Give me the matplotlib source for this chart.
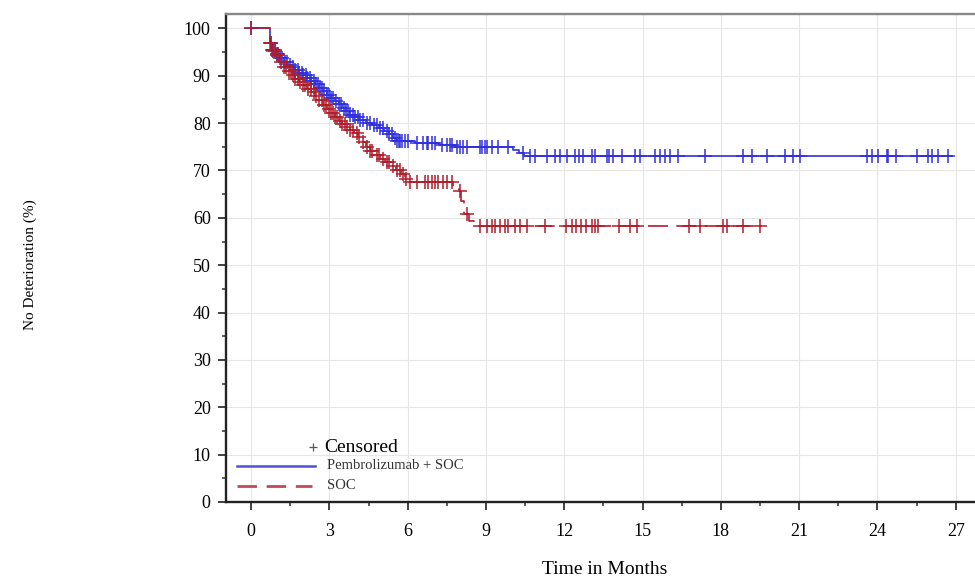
import numpy as np
import matplotlib
matplotlib.use("Agg")
import matplotlib.pyplot as plt
from matplotlib.ticker import MultipleLocator

plt.rcParams["font.family"] = ["Liberation Serif", "DejaVu Serif"]

# Kaplan-Meier estimates: event times (months) and survival (%) after each step
pembro_times = [0.0, 0.72, 0.8, 0.95, 1.1, 1.25, 1.4, 1.55, 1.7, 1.85, 2.0, 2.15, 2.3,
                2.45, 2.6, 2.75, 2.9, 3.05, 3.2, 3.35, 3.5, 3.65, 3.8, 3.95, 4.15,
                4.4, 4.65, 4.9, 5.1, 5.3, 5.45, 5.6, 6.3, 7.2, 7.8, 10.05, 10.25, 10.45]
pembro_surv = [100, 97, 95.5, 94.5, 93.8, 93, 92.3, 91.8, 91.2, 90.6, 90.1, 89.6, 89,
               88.3, 87.5, 86.8, 86, 85.3, 84.6, 84, 83.3, 82.5, 81.8, 81.2, 80.6,
               80.1, 79.5, 79, 78.3, 77.6, 76.9, 76.3, 75.8, 75.4, 74.9, 74.3, 73.7, 73.1]
pembro_end = 26.86
pembro_censor = [0.0, 0.75, 0.8, 0.85, 0.92, 1.0, 1.05, 1.1, 1.2, 1.3, 1.38, 1.5, 1.6,
                 1.7, 1.78, 1.85, 1.95, 2.0, 2.1, 2.15, 2.25, 2.3, 2.4, 2.5, 2.58,
                 2.65, 2.72, 2.8, 2.9, 3.0, 3.08, 3.15, 3.25, 3.35, 3.45, 3.55, 3.65,
                 3.72, 3.8, 3.9, 4.0, 4.1, 4.17, 4.3, 4.45, 4.56, 4.7, 4.82, 4.95,
                 5.06, 5.2, 5.3, 5.41, 5.5, 5.6, 5.65, 5.71, 5.8, 5.9, 6.02, 6.36,
                 6.59, 6.74, 6.78, 6.94, 7.05, 7.31, 7.51, 7.62, 7.7, 7.89, 8.0, 8.13,
                 8.27, 8.78, 8.85, 8.97, 9.04, 9.23, 9.46, 9.85, 10.42, 10.69, 10.87,
                 11.34, 11.64, 11.84, 12.11, 12.4, 12.55, 12.71, 13.05, 13.18, 13.63,
                 13.73, 13.88, 14.2, 14.71, 14.91, 15.48, 15.67, 15.87, 16.05, 16.37,
                 17.4, 18.86, 19.19, 19.76, 20.46, 20.78, 21.04, 23.59, 23.78, 24.03,
                 24.36, 24.42, 24.71, 25.5, 25.95, 26.1, 26.33, 26.72]

soc_times = [0.0, 0.72, 0.8, 0.95, 1.1, 1.25, 1.4, 1.55, 1.7, 1.85, 2.0, 2.15, 2.3,
             2.45, 2.6, 2.75, 2.9, 3.05, 3.2, 3.35, 3.5, 3.65, 3.8, 3.95, 4.1, 4.25,
             4.4, 4.55, 4.75, 4.95, 5.15, 5.35, 5.55, 5.75, 5.9, 6.05, 7.75, 7.95,
             8.05, 8.15, 8.35, 8.55]
soc_surv = [100, 97, 95.3, 94.3, 93, 91.8, 91, 90.2, 89.4, 88.7, 88, 87.3, 86.5,
            85.7, 84.8, 83.9, 83, 82.2, 81.3, 80.5, 79.8, 79.1, 78.5, 77.9, 77, 76,
            75, 74.2, 73.3, 72.5, 71.8, 71, 70, 69.2, 68.3, 67.6, 66.7, 65.7,
            63.6, 60.8, 59.4, 58.3]
soc_end = 19.58
soc_censor = [0.0, 0.72, 0.78, 0.85, 0.9, 0.98, 1.05, 1.15, 1.25, 1.32, 1.45, 1.52,
              1.6, 1.7, 1.8, 1.88, 2.0, 2.08, 2.2, 2.28, 2.4, 2.48, 2.6, 2.7, 2.8,
              2.88, 3.0, 3.08, 3.15, 3.22, 3.29, 3.4, 3.5, 3.6, 3.68, 3.8, 3.9, 4.05,
              4.15, 4.3, 4.45, 4.55, 4.65, 4.82, 4.9, 5.05, 5.21, 5.3, 5.45, 5.6,
              5.7, 5.83, 5.95, 6.09, 6.36, 6.66, 6.78, 6.94, 7.05, 7.17, 7.35, 7.51,
              7.71, 8.0, 8.27, 8.78, 9.04, 9.23, 9.35, 9.54, 9.73, 9.85, 10.11,
              10.31, 10.58, 11.27, 12.06, 12.3, 12.45, 12.65, 12.85, 13.05, 13.18,
              13.3, 14.08, 14.53, 14.78, 16.76, 17.2, 18.09, 18.23, 18.86, 19.5]

x_ticks = [0, 3, 6, 9, 12, 15, 18, 21, 24, 27]
y_ticks = [0, 10, 20, 30, 40, 50, 60, 70, 80, 90, 100]

BLUE = "#3030dc"
RED = "#b01e2c"


def surv_at(times, surv, t):
    idx = np.searchsorted(np.asarray(times), np.asarray(t), side="right") - 1
    return np.asarray(surv)[idx]


fig = plt.figure(figsize=(9.75, 5.8), dpi=100)
ax = fig.add_axes([0.2318, 0.1345, 0.7833, 0.841])

for times, surv, end, cens, color, ls in [
    (pembro_times, pembro_surv, pembro_end, pembro_censor, BLUE, "-"),
    (soc_times, soc_surv, soc_end, soc_censor, RED, (0, (12, 5))),
]:
    xs = list(times) + [end]
    ys = list(surv) + [surv[-1]]
    ax.step(xs, ys, where="post", color=color, lw=1.2, ls=ls, zorder=3)
    ax.plot(cens, surv_at(times, surv, cens), ls="none", marker="+",
            ms=9.5, mew=1.1, color=color, zorder=4)

ax.set_xlim(-0.96, 28.3)
ax.set_ylim(0, 103)
ax.set_xticks(x_ticks)
ax.set_yticks(y_ticks)
ax.xaxis.set_minor_locator(MultipleLocator(1.5))
ax.yaxis.set_minor_locator(MultipleLocator(5))
ax.tick_params(which="major", direction="out", length=6, width=1.3,
               labelsize=13, color="#333333")
ax.tick_params(axis="x", which="major", pad=9)
ax.tick_params(axis="y", which="major", pad=5)
ax.tick_params(which="minor", direction="out", length=3, width=1.1, color="#333333")
ax.grid(True, which="major", color="#e6e6e6", lw=0.8, zorder=0)
for side in ["left", "bottom"]:
    ax.spines[side].set_linewidth(1.7)
    ax.spines[side].set_color("#222222")
ax.spines["top"].set_linewidth(1.7)
ax.spines["top"].set_color("#888888")
ax.spines["right"].set_visible(False)

# Legend block in the lower-left corner
tr = ax.transAxes
ax.plot([0.114], [0.1127], marker="+", ms=6, mew=0.9, color="#555555",
        transform=tr, clip_on=False)
ax.text(0.128, 0.1127, "Censored", transform=tr, fontsize=14, va="center", ha="left")
ax.plot([0.0144, 0.1165], [0.0738, 0.0738], color="#5050d8", lw=1.8, transform=tr)
ax.text(0.132, 0.0738, "Pembrolizumab + SOC", transform=tr, fontsize=10.5,
        va="center", ha="left", color="#333333")
ax.plot([0.0144, 0.1125], [0.0328, 0.0328], color="#c04a5c", lw=2, ls=(0, (7, 3.5)),
        transform=tr)
ax.text(0.132, 0.0328, "SOC", transform=tr, fontsize=10.5, va="center", ha="left",
        color="#333333")

fig.text(30 / 975, 1 - 265 / 580, "No Deterioration (%)", rotation=90,
         ha="center", va="center", fontsize=11)
fig.text(605 / 975, 1 - 570 / 580, "Time in Months", ha="center", va="center",
         fontsize=14)

fig.savefig("out.png", dpi=100)
